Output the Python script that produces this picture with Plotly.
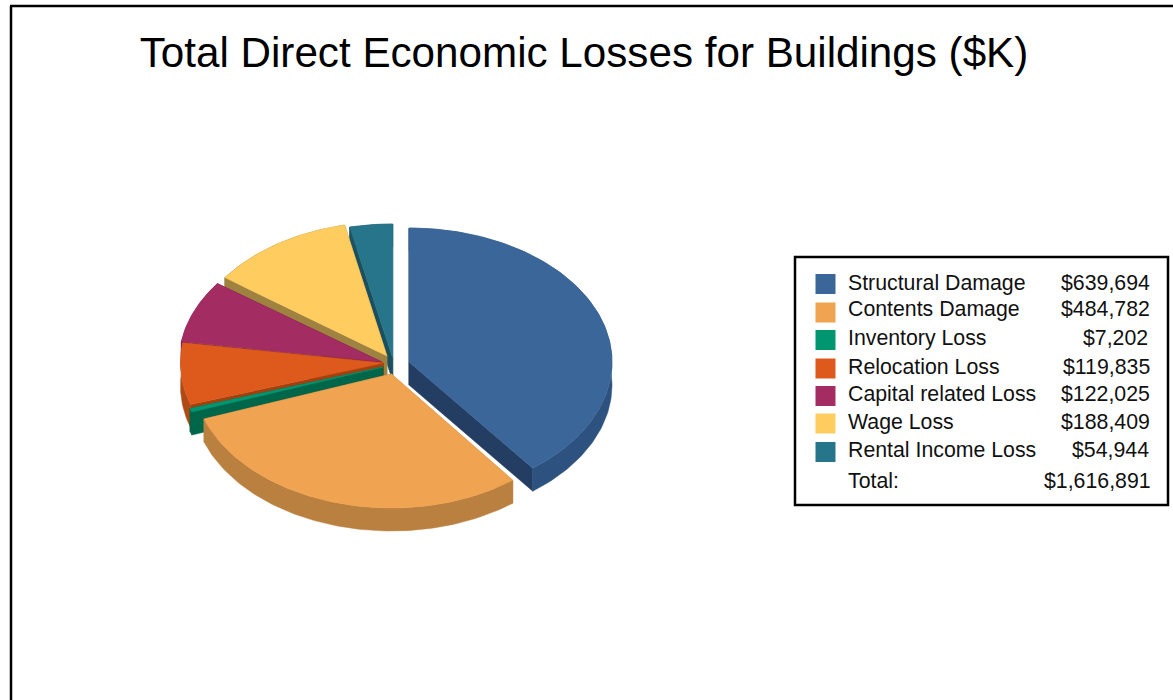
import math
import plotly.graph_objects as go

# ---- data ----
categories = ["Structural Damage", "Contents Damage", "Inventory Loss", "Relocation Loss",
              "Capital related Loss", "Wage Loss", "Rental Income Loss"]
values = [639694, 484782, 7202, 119835, 122025, 188409, 54944]
title_text = "Total Direct Economic Losses for Buildings ($K)"
total_label = "Total:"

# ---- styling ----
top_colors = ["#3b6699", "#f0a350", "#009670", "#dd5a1c", "#a32c63", "#ffcc5f", "#27758a"]
rim_colors = ["#2e527f", "#ba8040", "#00664a", "#b04a15", "#7a2049", "#a08240", "#1b5363"]
cut_colors = ["#233e62", "#ba8040", "#00664a", "#a3400f", "#6b1c40", "#a08240", "#1a4f5e"]
# exploded slice apex, in pixels of the 1173x700 canvas
apex_x = [409, 391.4, 383, 383.5, 382, 387, 392.7]
apex_y = [362, 374, 367, 363, 362, 356, 358]
radius_x = [203, 199, 203, 203, 203, 200, 203]
draw_order = [6, 5, 4, 3, 2, 1, 0]
RY, DEPTH = 134, 23
swatch_y = [284, 312.5, 340, 368.5, 396, 423.5, 452]
text_y = [283, 309, 338, 367, 394, 422, 450]
value_right = [1151, 1151, 1149, 1151, 1151, 1151, 1150]
total_y = 481
FONT = "Liberation Sans, Arial, sans-serif"

total = sum(values)
fig = go.Figure()


def poly(xs, ys, color, name, value):
    fig.add_trace(go.Scatter(
        x=xs + xs[:1], y=ys + ys[:1], mode="lines", fill="toself", fillcolor=color,
        line=dict(color=color, width=0.5), name=name, showlegend=False,
        hoveron="fills", text=f"{name}: ${value:,}", hoverinfo="text"))


# slice angle ranges run clockwise from 12 o'clock
starts = []
acc = 0.0
for v in values:
    starts.append(acc)
    acc += v / total * 2 * math.pi

for i in draw_order:
    a0 = starts[i]
    a1 = a0 + values[i] / total * 2 * math.pi
    cx, cy = apex_x[i], apex_y[i]
    n = max(4, int((a1 - a0) / 0.02))
    angs = [a0 + (a1 - a0) * k / n for k in range(n + 1)]
    arc_x = [cx + radius_x[i] * math.sin(a) for a in angs]
    arc_y = [cy - RY * math.cos(a) for a in angs]
    name = categories[i]
    # cut faces
    for ex, ey in ((arc_x[0], arc_y[0]), (arc_x[-1], arc_y[-1])):
        poly([cx, ex, ex, cx], [cy, ey, ey + DEPTH, cy + DEPTH], cut_colors[i], name, values[i])
    # outer rim
    poly(arc_x + arc_x[::-1], arc_y + [y + DEPTH for y in arc_y[::-1]], rim_colors[i], name, values[i])
    # top face
    poly([cx] + arc_x, [cy] + arc_y, top_colors[i], name, values[i])

# legend swatches
fig.add_trace(go.Scatter(
    x=[825.5] * len(categories), y=swatch_y, mode="markers",
    marker=dict(symbol="square", size=20, color=top_colors, line=dict(width=0)),
    showlegend=False, hoverinfo="skip"))

ann = []


def label(x, y, s, anchor):
    ann.append(dict(x=x, y=y, xref="x", yref="y", text=s, showarrow=False, xanchor=anchor,
                    yanchor="middle", font=dict(family=FONT, size=21.3, color="#111111"),
                    xshift=0, yshift=0, borderpad=0))


for c, v, ty, vr in zip(categories, values, text_y, value_right):
    label(847, ty, c, "left")
    label(vr, ty, f"${v:,}", "right")
label(847, total_y, total_label, "left")
label(1152, total_y, f"${total:,}", "right")

shapes = [
    # outer frame (left and top edges visible inside the canvas)
    dict(type="line", xref="x", yref="y", x0=11, y0=700, x1=11, y1=6, line=dict(color="black", width=2.5)),
    dict(type="line", xref="x", yref="y", x0=10, y0=6, x1=1173, y1=6, line=dict(color="black", width=2.5)),
    # legend box
    dict(type="rect", xref="x", yref="y", x0=795, y0=257, x1=1168, y1=505,
         line=dict(color="black", width=2.5), fillcolor="rgba(255,255,255,0)", layer="below"),
]

fig.update_layout(
    width=1173, height=700, autosize=False,
    margin=dict(l=0, r=0, t=0, b=0, pad=0),
    paper_bgcolor="white", plot_bgcolor="white",
    title=dict(text=title_text, x=584 / 1173, y=1 - 52 / 700, xanchor="center", yanchor="middle",
               xref="paper", yref="paper", font=dict(family=FONT, size=42.2, color="#000000")),
    xaxis=dict(range=[0, 1173], visible=False, fixedrange=True),
    yaxis=dict(range=[700, 0], visible=False, fixedrange=True),
    annotations=ann, shapes=shapes, showlegend=False,
)

fig.write_html("out.html", config={"displayModeBar": False},
               post_script="document.body.style.margin='0';")
